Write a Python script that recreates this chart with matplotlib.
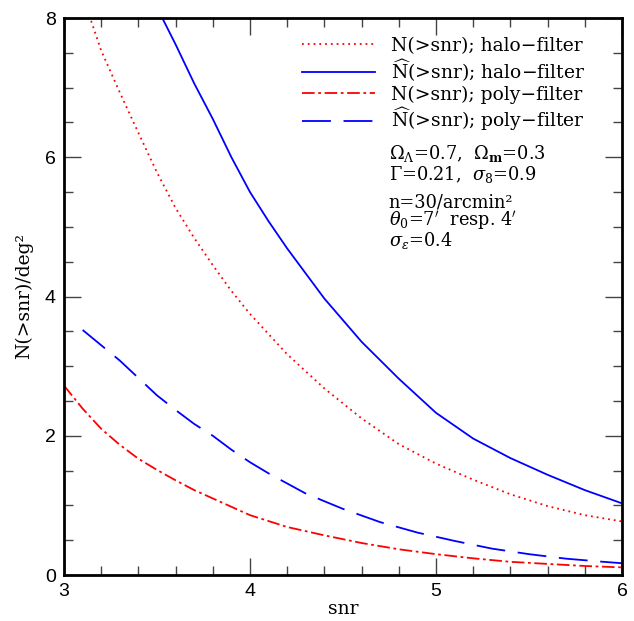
import matplotlib
matplotlib.use('Agg')
import matplotlib.pyplot as plt
from matplotlib.ticker import MultipleLocator

# values
snr_halo = [3.0, 3.1, 3.2, 3.3, 3.4, 3.5, 3.6, 3.7, 3.8, 3.9, 4.0, 4.2, 4.4, 4.6, 4.8, 5.0, 5.2, 5.4, 5.6, 5.8, 6.0]
n_halo = [9.3, 8.32, 7.53, 6.93, 6.35, 5.78, 5.27, 4.84, 4.45, 4.08, 3.75, 3.17, 2.68, 2.25, 1.88, 1.60, 1.37, 1.16, 0.99, 0.86, 0.77]

snr_hat_halo = [3.4, 3.5, 3.6, 3.7, 3.8, 3.9, 4.0, 4.1, 4.2, 4.4, 4.6, 4.8, 5.0, 5.2, 5.4, 5.6, 5.8, 6.0]
nhat_halo = [8.72, 8.15, 7.62, 7.06, 6.55, 6.00, 5.50, 5.08, 4.69, 3.97, 3.35, 2.82, 2.33, 1.96, 1.68, 1.44, 1.22, 1.03]

snr_poly = [3.0, 3.1, 3.2, 3.3, 3.4, 3.5, 3.6, 3.7, 3.8, 3.9, 4.0, 4.2, 4.4, 4.6, 4.8, 5.0, 5.2, 5.4, 5.6, 5.8, 6.0]
n_poly = [2.72, 2.39, 2.10, 1.87, 1.67, 1.51, 1.36, 1.22, 1.10, 0.98, 0.86, 0.69, 0.57, 0.46, 0.37, 0.30, 0.24, 0.19, 0.16, 0.13, 0.11]

snr_hat_poly = [3.1, 3.2, 3.3, 3.4, 3.5, 3.6, 3.7, 3.8, 3.9, 4.0, 4.1, 4.3, 4.5, 4.7, 4.9, 5.1, 5.3, 5.5, 5.7, 5.9, 6.0]
nhat_poly = [3.52, 3.30, 3.08, 2.83, 2.58, 2.37, 2.17, 2.00, 1.80, 1.62, 1.46, 1.17, 0.95, 0.76, 0.61, 0.49, 0.38, 0.30, 0.235, 0.19, 0.17]

labels = ['N(>snr); halo\u2212filter',
          r'$\widehat{\mathrm{N}}$(>snr); halo' + '\u2212filter',
          'N(>snr); poly\u2212filter',
          r'$\widehat{\mathrm{N}}$(>snr); poly' + '\u2212filter']

cosmo_text = [r'$\Omega_\Lambda$=0.7,  $\Omega_\mathbf{m}$=0.3',
              r'$\Gamma$=0.21,  $\sigma_8$=0.9']
survey_text = ['n=30/arcmin\u00b2',
               r"$\theta_0$=7$'$  resp. 4$'$",
               r'$\sigma_\epsilon$=0.4']

plt.rcParams['font.family'] = ['DejaVu Serif']
plt.rcParams['mathtext.fontset'] = 'dejavuserif'

fig = plt.figure(figsize=(6.34, 6.21), dpi=100)
ax = fig.add_axes([0.101, 0.074, 0.880, 0.897])

ax.plot(snr_halo, n_halo, color='#ff0000', lw=1.3, linestyle=(0, (1, 2.2)), label=labels[0])
ax.plot(snr_hat_halo, nhat_halo, color='#0000ff', lw=1.3, linestyle='-', label=labels[1])
ax.plot(snr_poly, n_poly, color='#ff0000', lw=1.3, linestyle=(0, (7, 2, 1.5, 2)), label=labels[2])
ax.plot(snr_hat_poly, nhat_poly, color='#0000ff', lw=1.3, linestyle=(0, (16, 7)), label=labels[3])

ax.set_xlim(3, 6)
ax.set_ylim(0, 8)
ax.xaxis.set_major_locator(MultipleLocator(1))
ax.xaxis.set_minor_locator(MultipleLocator(0.2))
ax.yaxis.set_major_locator(MultipleLocator(2))
ax.yaxis.set_minor_locator(MultipleLocator(0.5))
ax.tick_params(which='both', direction='in', top=True, right=True, width=1, color='#444444')
ax.tick_params(which='major', length=12)
ax.tick_params(which='minor', length=6.5)
ax.tick_params(axis='both', labelsize=14, pad=6)
for lab in ax.get_xticklabels() + ax.get_yticklabels():
    lab.set_family('Liberation Sans')
for sp in ax.spines.values():
    sp.set_linewidth(2)

ax.set_xlabel('snr', fontsize=13.5, labelpad=0)
ax.set_ylabel('N(>snr)/deg\u00b2', fontsize=13.5, labelpad=8)

ax.legend(loc='upper left', bbox_to_anchor=(0.4265, 0.966), frameon=False, fontsize=13.5,
          handlelength=3.9, handletextpad=0.85, labelspacing=0.1, borderaxespad=0,
          borderpad=0)

ax.text(0.582, 0.738, '\n'.join(cosmo_text), transform=ax.transAxes, fontsize=12.8,
        va='center', ha='left', linespacing=0.95)
ax.text(0.582, 0.634, '\n'.join(survey_text), transform=ax.transAxes, fontsize=12.8,
        va='center', ha='left', linespacing=0.86)

fig.savefig('out.png', dpi=100)
